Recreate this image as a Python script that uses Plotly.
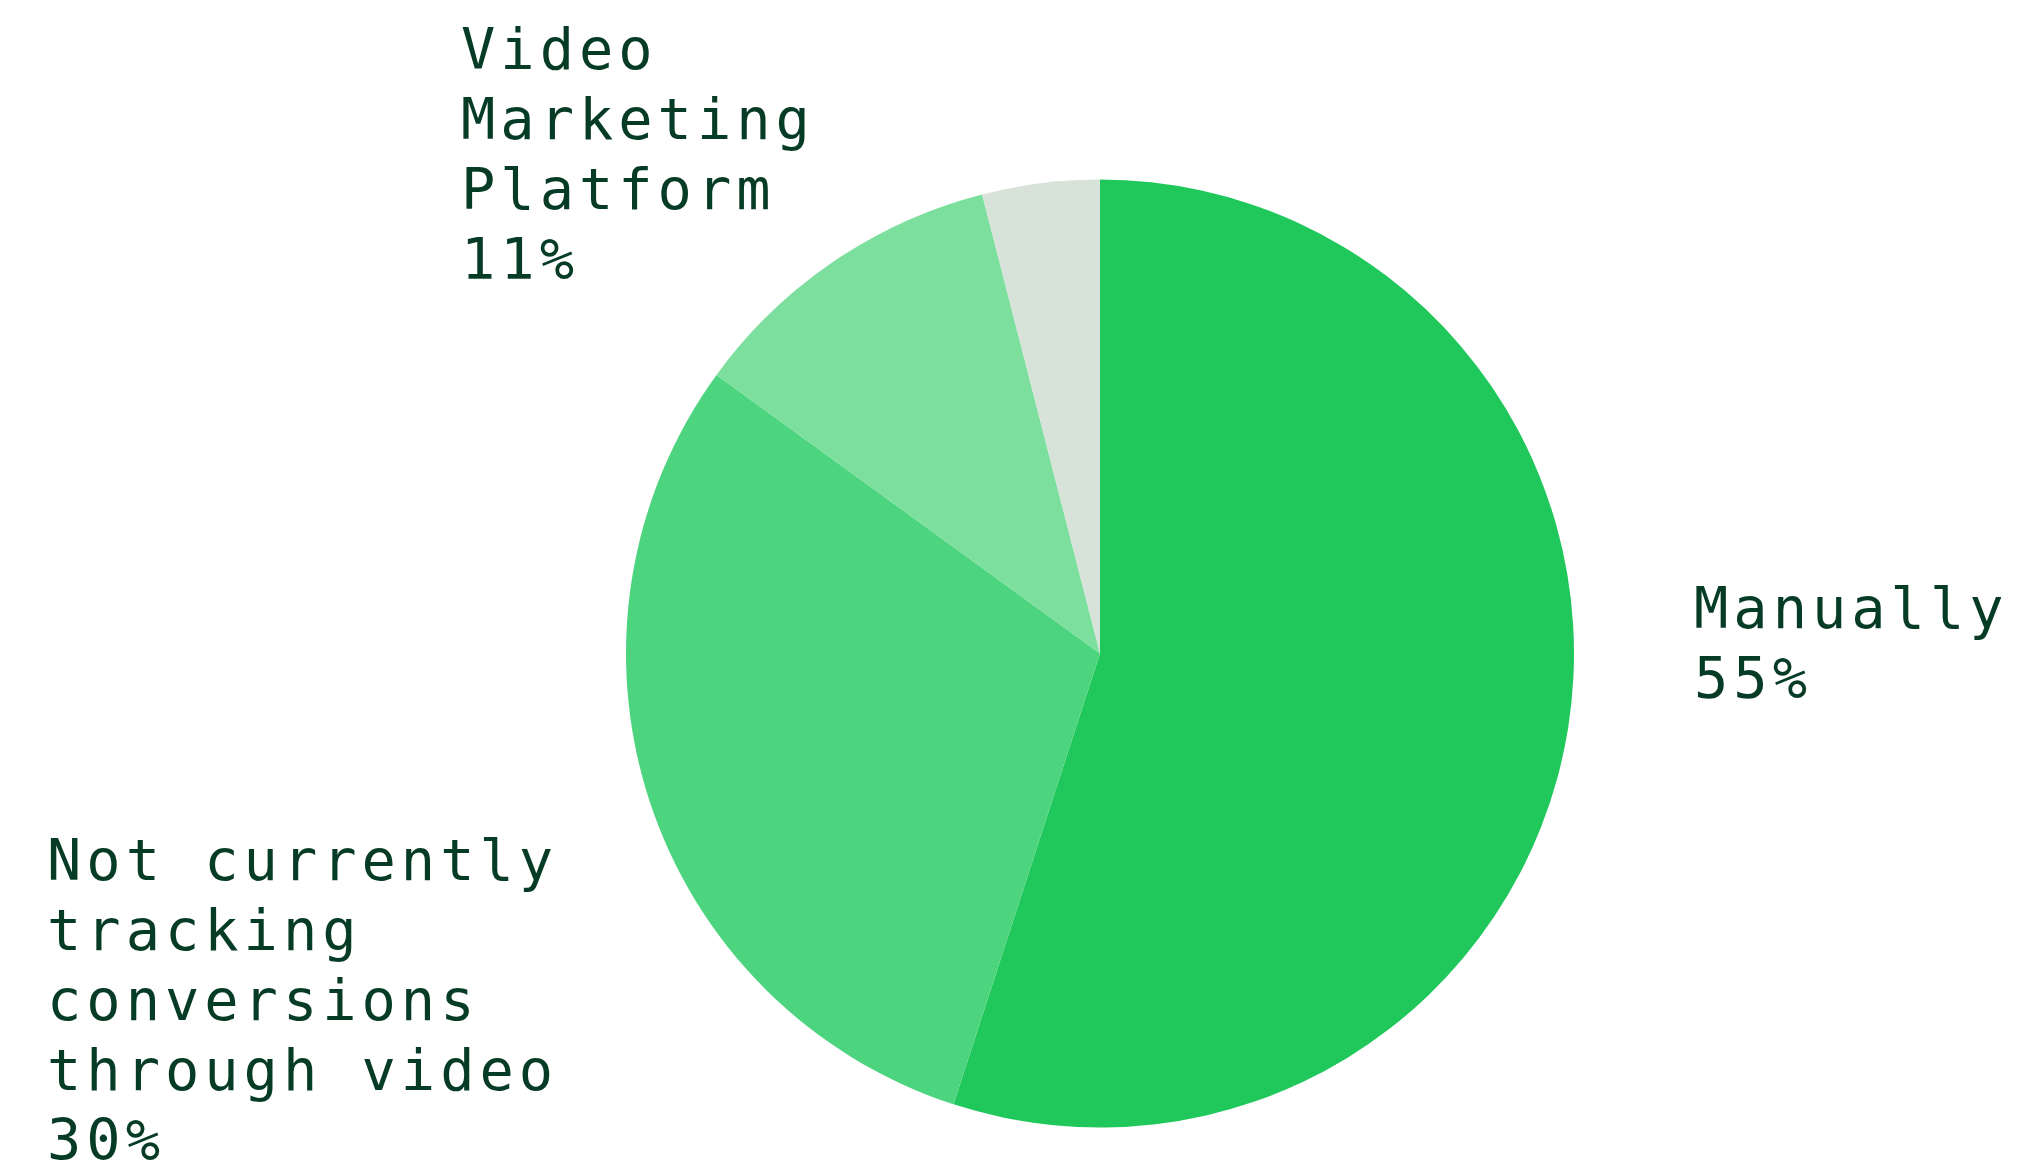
import plotly.graph_objects as go

# Survey shares: how video conversions are tracked
categories = ["Manually", "Not currently tracking conversions through video",
              "Video Marketing Platform", "Other"]
shares = [55, 30, 11, 4]
slice_colors = ["#20c85b", "#4dd47e", "#7ddf9e", "#d7e2d9"]

# Label text, broken into display lines (the unlabeled slice gets none)
label_lines = {
    "Manually": ["Manually"],
    "Not currently tracking conversions through video":
        ["Not currently", "tracking", "conversions", "through video"],
    "Video Marketing Platform": ["Video", "Marketing", "Platform"],
}

W, H = 2017, 1166
FONT = "DejaVu Sans Mono"
FONT_SIZE = 57
TRACKING = 5   # extra letter spacing, px
LINE_GAP = 70  # pixels between baselines
TEXT_COLOR = "#063b26"

# Left edge and first-line baseline of each label block, in pixels
label_anchor = {
    "Manually": (1693, 628),
    "Not currently tracking conversions through video": (46, 880),
    "Video Marketing Platform": (460, 69),
}

fig = go.Figure(go.Pie(
    labels=categories,
    values=shares,
    sort=False,
    direction="clockwise",
    rotation=0,
    marker=dict(colors=slice_colors, line=dict(width=0)),
    textinfo="none",
    hoverinfo="label+percent",
    domain=dict(x=[626 / W, 1574 / W], y=[1 - 1128 / H, 1 - 179 / H]),
    showlegend=False,
))

annotations = []
for cat, val in zip(categories, shares):
    if cat not in label_lines:
        continue
    x0, base0 = label_anchor[cat]
    lines = label_lines[cat] + [f"{val}%"]
    for i, line in enumerate(lines):
        baseline = base0 + i * LINE_GAP
        annotations.append(dict(
            text=f'<span style="letter-spacing:{TRACKING}px">{line}</span>',
            showarrow=False,
            xref="paper", yref="paper",
            x=x0 / W, y=1 - (baseline + 0.24 * FONT_SIZE) / H,
            xanchor="left", yanchor="bottom",
            borderpad=0,
            font=dict(family=FONT, size=FONT_SIZE, color=TEXT_COLOR),
        ))

fig.update_layout(
    width=W, height=H,
    margin=dict(l=0, r=0, t=0, b=0),
    paper_bgcolor="white", plot_bgcolor="white",
    annotations=annotations,
)

fig.write_html("out.html")
